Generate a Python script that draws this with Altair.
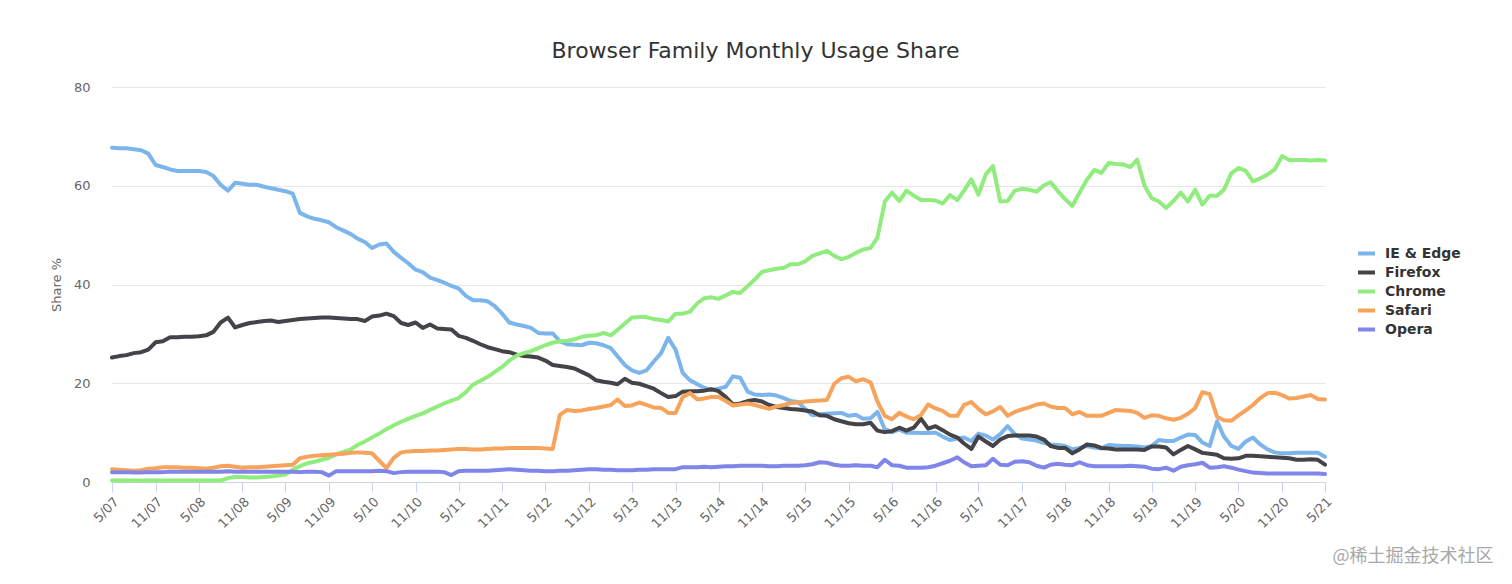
import altair as alt
import pandas as pd

series_names = ["IE & Edge", "Firefox", "Chrome", "Safari", "Opera"]
series_colors = ["#7cb5ec", "#434348", "#90ed7d", "#f7a35c", "#8085e9"]

# Monthly values, 5/07 .. 5/21 (169 months)
ie_edge = [
    67.7, 67.6, 67.6, 67.4, 67.2, 66.5, 64.2, 63.8, 63.3, 63.0, 63.0, 63.0, 63.0, 62.8,
    62.0, 60.2, 59.0, 60.6, 60.4, 60.2, 60.2, 59.8, 59.5, 59.2, 58.9, 58.4, 54.5, 53.8,
    53.3, 53.0, 52.6, 51.6, 50.9, 50.2, 49.3, 48.6, 47.4, 48.1, 48.3, 46.6, 45.4, 44.3,
    43.0, 42.5, 41.4, 40.9, 40.4, 39.7, 39.2, 37.7, 36.8, 36.8, 36.6, 35.6, 34.1, 32.3,
    31.9, 31.6, 31.2, 30.2, 30.1, 30.1, 28.5, 27.9, 27.8, 27.7, 28.2, 28.1, 27.7, 27.1,
    25.5, 23.7, 22.6, 22.1, 22.6, 24.4, 26.1, 29.2, 26.8, 22.1, 20.6, 19.8, 19.1,
    18.6, 18.9, 19.3, 21.4, 21.1, 18.3, 17.7, 17.6, 17.7, 17.5, 17.0, 16.4, 16.2, 14.8,
    13.5, 13.7, 13.8, 13.9, 14.0, 13.4, 13.6, 12.8, 12.9, 14.2, 10.7, 10.1, 10.6, 10.0,
    10.0, 9.9, 9.9, 10.0, 9.2, 8.5, 8.8, 9.0, 8.3, 9.8, 9.4, 8.6, 9.7, 11.3,
    9.7, 8.8, 8.6, 8.4, 7.9, 7.6, 7.5, 7.3, 6.6, 6.9, 7.3, 7.0, 6.8, 7.5,
    7.4, 7.3, 7.3, 7.2, 7.0, 7.3, 8.5, 8.3, 8.3, 9.0, 9.6, 9.5, 8.0, 7.3, 12.3,
    9.2, 7.3, 6.7, 8.2, 9.0, 7.6, 6.6, 6.0, 5.8, 5.8, 5.9, 5.9, 5.9, 5.9, 5.1,
]
firefox = [
    25.2, 25.5, 25.7, 26.1, 26.3, 26.8, 28.3, 28.5, 29.3, 29.3, 29.4, 29.4, 29.5, 29.7,
    30.4, 32.3, 33.3, 31.3, 31.8, 32.2, 32.4, 32.6, 32.7, 32.4, 32.6, 32.8, 33.0, 33.1,
    33.2, 33.3, 33.3, 33.2, 33.1, 33.0, 33.0, 32.6, 33.5, 33.7, 34.1, 33.6, 32.2, 31.8,
    32.3, 31.2, 31.9, 31.1, 31.0, 30.9, 29.6, 29.2, 28.6, 27.9, 27.3, 26.9, 26.5, 26.3,
    25.8, 25.5, 25.4, 25.2, 24.6, 23.7, 23.5, 23.3, 23.0, 22.3, 21.6, 20.6, 20.3, 20.1,
    19.8, 20.9, 20.1, 19.9, 19.4, 18.9, 18.0, 17.2, 17.4, 18.3, 18.4, 18.4, 18.5,
    18.8, 18.4, 17.2, 15.7, 15.9, 16.4, 16.6, 16.3, 15.6, 15.2, 15.0, 14.8, 14.7, 14.5,
    14.3, 13.5, 13.4, 12.7, 12.3, 11.9, 11.7, 11.7, 12.0, 10.4, 10.1, 10.3, 11.0, 10.4,
    11.0, 12.8, 10.8, 11.3, 10.5, 9.6, 9.0, 7.8, 6.7, 9.2, 8.2, 7.3, 8.6, 9.3,
    9.4, 9.4, 9.4, 9.2, 8.6, 7.3, 6.9, 6.9, 5.8, 6.6, 7.6, 7.4, 6.9, 6.8,
    6.6, 6.6, 6.6, 6.6, 6.5, 7.2, 7.2, 7.0, 5.6, 6.5, 7.3, 6.6, 5.9, 5.7, 5.5,
    4.8, 4.7, 4.8, 5.3, 5.3, 5.2, 5.1, 5.0, 4.9, 4.8, 4.5, 4.5, 4.6, 4.5, 3.5,
]
chrome = [
    0.3, 0.3, 0.3, 0.3, 0.3, 0.3, 0.3, 0.3, 0.3, 0.3, 0.3, 0.3, 0.3, 0.3,
    0.3, 0.3, 0.8, 1.0, 1.0, 0.9, 0.9, 1.0, 1.1, 1.3, 1.5, 2.5, 3.2, 3.8,
    4.1, 4.5, 4.9, 5.6, 6.1, 6.6, 7.5, 8.2, 9.0, 9.8, 10.7, 11.5, 12.2, 12.8,
    13.4, 13.9, 14.6, 15.3, 15.9, 16.5, 17.0, 18.2, 19.7, 20.5, 21.3, 22.3, 23.3, 24.6,
    25.6, 26.1, 26.5, 27.1, 27.7, 28.2, 28.5, 28.6, 28.9, 29.4, 29.6, 29.7, 30.2, 29.7,
    30.8, 32.1, 33.3, 33.4, 33.4, 33.0, 32.8, 32.5, 34.1, 34.1, 34.5, 36.2, 37.2,
    37.4, 37.1, 37.8, 38.5, 38.3, 39.7, 41.0, 42.6, 42.9, 43.2, 43.4, 44.1, 44.1, 44.7,
    45.8, 46.3, 46.8, 45.8, 45.1, 45.6, 46.4, 47.1, 47.4, 49.5, 56.8, 58.6, 56.9, 59.0,
    58.0, 57.1, 57.1, 57.0, 56.4, 58.1, 57.1, 59.0, 61.3, 58.2, 62.3, 64.0, 56.8, 56.9,
    59.0, 59.4, 59.2, 58.8, 60.1, 60.7, 58.9, 57.3, 55.9, 58.6, 61.2, 63.2, 62.6, 64.6,
    64.4, 64.3, 63.8, 65.3, 60.0, 57.5, 56.8, 55.5, 56.9, 58.6, 56.8, 59.2, 56.2, 58.0, 58.0,
    59.2, 62.5, 63.6, 63.0, 60.9, 61.5, 62.3, 63.3, 66.0, 65.2, 65.2, 65.2, 65.1, 65.2, 65.1,
]
safari = [
    2.6, 2.5, 2.4, 2.3, 2.4, 2.7, 2.8, 3.0, 3.0, 3.0, 2.9, 2.9, 2.8, 2.7,
    2.9, 3.2, 3.3, 3.1, 2.9, 3.0, 3.0, 3.1, 3.2, 3.3, 3.4, 3.5, 4.8, 5.1,
    5.3, 5.4, 5.5, 5.6, 5.7, 5.9, 6.0, 5.9, 5.8, 4.3, 2.8, 4.9, 6.0, 6.2,
    6.3, 6.3, 6.4, 6.4, 6.5, 6.6, 6.7, 6.7, 6.6, 6.6, 6.7, 6.8, 6.8, 6.9,
    6.9, 6.9, 6.9, 6.9, 6.8, 6.7, 13.6, 14.6, 14.4, 14.5, 14.8, 15.0, 15.3, 15.6,
    16.7, 15.4, 15.5, 16.1, 15.6, 15.1, 15.0, 14.0, 14.0, 17.2, 18.0, 16.7, 16.9,
    17.2, 17.2, 16.4, 15.5, 15.7, 15.9, 15.6, 15.2, 14.8, 15.3, 15.6, 16.0, 16.1, 16.3,
    16.4, 16.5, 16.6, 19.9, 21.0, 21.3, 20.4, 20.8, 20.2, 16.3, 13.4, 12.7, 14.0, 13.3,
    12.7, 13.6, 15.7, 14.9, 14.4, 13.4, 13.4, 15.6, 16.2, 14.8, 13.7, 14.3, 15.2, 13.4,
    14.2, 14.7, 15.1, 15.7, 15.9, 15.3, 15.0, 15.0, 13.7, 14.2, 13.4, 13.4, 13.4, 14.0,
    14.6, 14.5, 14.4, 14.0, 13.0, 13.5, 13.4, 12.9, 12.6, 13.0, 13.8, 15.0, 18.2, 17.8, 13.2,
    12.5, 12.4, 13.5, 14.5, 15.6, 17.0, 18.0, 18.1, 17.6, 16.9, 17.0, 17.3, 17.6, 16.8, 16.7,
]
opera = [
    2.0, 2.0, 2.0, 1.9, 1.9, 2.0, 2.0, 2.0, 2.1, 2.1, 2.1, 2.1, 2.1, 2.1,
    2.1, 2.1, 2.2, 2.1, 2.1, 2.1, 2.1, 2.1, 2.1, 2.1, 2.1, 2.1, 2.0, 2.1,
    2.1, 2.0, 1.3, 2.2, 2.2, 2.2, 2.2, 2.2, 2.2, 2.3, 2.2, 1.8, 2.0, 2.1,
    2.1, 2.1, 2.1, 2.1, 2.0, 1.4, 2.2, 2.3, 2.3, 2.3, 2.3, 2.4, 2.5, 2.6,
    2.5, 2.4, 2.3, 2.3, 2.2, 2.2, 2.3, 2.3, 2.4, 2.5, 2.6, 2.6, 2.5, 2.5,
    2.4, 2.4, 2.4, 2.5, 2.5, 2.6, 2.6, 2.6, 2.6, 3.0, 3.0, 3.0, 3.1,
    3.0, 3.1, 3.2, 3.2, 3.3, 3.3, 3.3, 3.3, 3.2, 3.2, 3.3, 3.3, 3.3, 3.4,
    3.6, 4.0, 3.9, 3.5, 3.3, 3.3, 3.4, 3.3, 3.3, 3.0, 4.5, 3.4, 3.3, 2.9,
    2.9, 2.9, 3.0, 3.3, 3.8, 4.3, 5.0, 4.0, 3.2, 3.3, 3.4, 4.7, 3.5, 3.4,
    4.1, 4.2, 4.0, 3.3, 2.9, 3.5, 3.7, 3.5, 3.4, 4.0, 3.4, 3.2, 3.2, 3.2,
    3.2, 3.2, 3.3, 3.2, 3.1, 2.7, 2.6, 2.9, 2.3, 3.1, 3.4, 3.6, 3.9, 2.9, 3.0,
    3.2, 2.9, 2.5, 2.2, 1.9, 1.8, 1.7, 1.7, 1.7, 1.7, 1.7, 1.7, 1.7, 1.7, 1.6,
]

months = pd.date_range("2007-05-01", periods=len(ie_edge), freq="MS").strftime("%Y-%m-%d").tolist()

# x-axis tick positions (every 6 months), labelled M/YY
tick_year_months = [(y, m) for y in range(2007, 2022) for m in (5, 11) if (y, m) <= (2021, 5)]

rows = []
for name, vals in zip(series_names, [ie_edge, firefox, chrome, safari, opera]):
    for mo, v in zip(months, vals):
        rows.append({"month": mo, "series": name, "share": v})
df = pd.DataFrame(rows)

FONT = "DejaVu Sans"

x_enc = alt.X(
    "month:T",
    scale=alt.Scale(
        type="utc",
        domain=[alt.DateTime(year=2007, month=5, date=1, utc=True),
                alt.DateTime(year=2021, month=5, date=1, utc=True)],
    ),
    axis=alt.Axis(
        values=[alt.DateTime(year=y, month=m, date=1, utc=True) for y, m in tick_year_months],
        labelExpr="(utcmonth(datum.value) + 1) + '/' + utcFormat(datum.value, '%y')",
        labelAngle=-45,
        labelAlign="right",
        labelBaseline="top",
        labelColor="#666666",
        labelFontSize=13,
        labelFont=FONT,
        labelPadding=3,
        labelOverlap=False,
        domainColor="#ccd6eb",
        tickColor="#ccd6eb",
        tickSize=10,
        grid=False,
        title="@稀土掘金技术社区",
        titleFont="Noto Sans CJK SC",
        titleFontSize=18,
        titleFontWeight="normal",
        titleColor="#a8a8a8",
        titleAlign="right",
        titleBaseline="alphabetic",
        titleX=1381,
        titleY=79,
    ),
)
y_enc = alt.Y(
    "share:Q",
    scale=alt.Scale(domain=[0, 80], nice=False),
    axis=alt.Axis(
        values=[0, 20, 40, 60, 80],
        grid=True,
        gridColor="#e6e6e6",
        domain=False,
        ticks=False,
        tickSize=0,
        labelPadding=22,
        labelColor="#666666",
        labelFontSize=13,
        labelFont=FONT,
        title="Share %",
        titleColor="#666666",
        titleFont=FONT,
        titleFontSize=13,
        titleFontWeight="normal",
        titlePadding=10,
    ),
)
color_enc = alt.Color(
    "series:N",
    scale=alt.Scale(domain=series_names, range=series_colors),
    legend=alt.Legend(
        orient="none",
        legendX=1244,
        legendY=156,
        title=None,
        symbolType="stroke",
        symbolStrokeWidth=4,
        symbolSize=289,
        labelFont=FONT,
        labelFontSize=14,
        labelFontWeight="bold",
        labelColor="#333333",
        labelOffset=8,
        rowPadding=-1,
        padding=0,
    ),
)

layers = []
for name in series_names:
    layers.append(
        alt.Chart(df)
        .transform_filter(alt.datum.series == name)
        .mark_line(strokeWidth=4, strokeJoin="round", strokeCap="round")
        .encode(x=x_enc, y=y_enc, color=color_enc)
    )

chart = (
    alt.layer(*layers)
    .properties(
        width=1213,
        height=395,
        background="white",
        title=alt.TitleParams(
            text="Browser Family Monthly Usage Share",
            font=FONT,
            fontSize=22,
            fontWeight="normal",
            color="#333333",
            anchor="middle",
            dx=37,
            offset=18,
        ),
        autosize=alt.AutoSizeParams(type="none"),
        padding={"left": 104, "top": 79, "right": 175, "bottom": 88},
    )
    .configure_view(stroke=None)
)

chart.save("out.html", embed_options={"renderer": "svg", "actions": False})
